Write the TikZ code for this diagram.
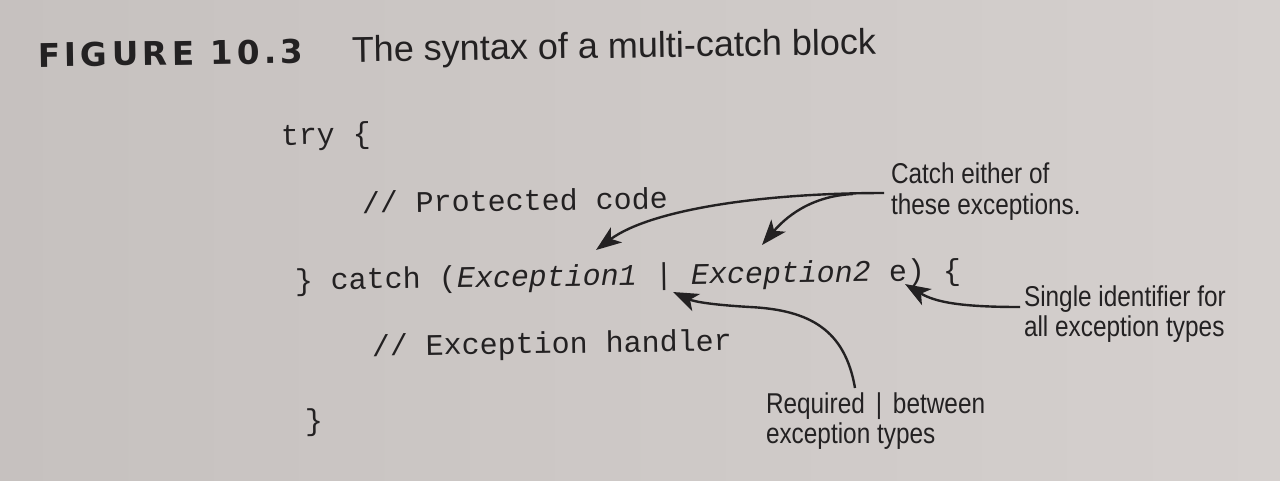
\documentclass[tikz,border=0pt]{standalone}
\usepackage{fontspec}
\setmainfont{Liberation Sans}
\newfontfamily\notefont[FakeStretch=0.85]{Liberation Sans}
\newfontfamily\codefont{Liberation Mono}
\newfontfamily\headfont[LetterSpace=13]{DejaVu Sans}
\usetikzlibrary{arrows.meta}
\definecolor{paper}{RGB}{198,193,191}
\definecolor{paperlight}{RGB}{213,208,206}
\definecolor{ink}{RGB}{35,33,34}
\begin{document}
\begin{tikzpicture}[x=0.75pt,y=-0.75pt,
  txt/.style={anchor=base west, inner sep=0pt, outer sep=0pt, text=ink, rotate=0.85},
  code/.style={txt, font=\codefont\fontsize{22.5}{27}\selectfont},
  note/.style={anchor=base west, inner sep=0pt, outer sep=0pt, text=ink, font=\notefont\fontsize{21.5}{24}\selectfont},
  callout/.style={draw=ink, line width=1.8pt, -{Stealth[length=19pt,width=14pt,inset=5pt]}}]
\shade[left color=paper, right color=paperlight] (0,0) rectangle (1280,480);
\useasboundingbox (0,0) rectangle (1280,480);
% heading
\node[txt, font=\headfont\bfseries\fontsize{24.5}{28}\selectfont] (fig) at (38,67) {FIGURE 10.3};
\node[txt, font=\fontsize{27}{30}\selectfont] (title) at (352,62) {The syntax of a multi-catch block};
% code
\node[code] (try) at (281,145) {try \{};
\node[code] (prot) at (362,213) {// Protected code};
\node[code] (catch) at (295,290) {\} catch (\textit{Exception1} | \textit{Exception2} e) \{};
\node[code] (hand) at (372,356) {// Exception handler};
\node[code] (close) at (305,430) {\}};
% notes
\node[note] (catchA) at (891,183) {Catch either of};
\node[note] (catchB) at (891,214) {these exceptions.};
\node[note] (singA) at (1024,306) {Single identifier for};
\node[note] (singB) at (1024,336) {all exception types};
\node[note] (reqA) at (766,413) {Required\hspace{.38em}|\hspace{.38em}between};
\node[note] (reqB) at (766,443) {exception types};
% arrow ends
\coordinate (s1) at (884,193);
\coordinate (s2) at (853,194);
\coordinate (t1) at (596,250);
\coordinate (t2) at (762,245);
\coordinate (s3) at (1020,307);
\coordinate (t3) at (905,284);
\coordinate (s4) at (855,388);
\coordinate (m4) at (750,307);
\coordinate (t4) at (673,292);
\draw[callout] (s1) .. controls (760,193) and (650,210) .. (t1);
\draw[callout] (s2) .. controls (810,196) and (785,218) .. (t2);
\draw[callout] (s3) .. controls (960,307) and (935,302) .. (t3);
\draw[callout] (s4) .. controls (845,330) and (810,310) .. (m4) .. controls (715,305) and (695,302) .. (t4);
\end{tikzpicture}
\end{document}
